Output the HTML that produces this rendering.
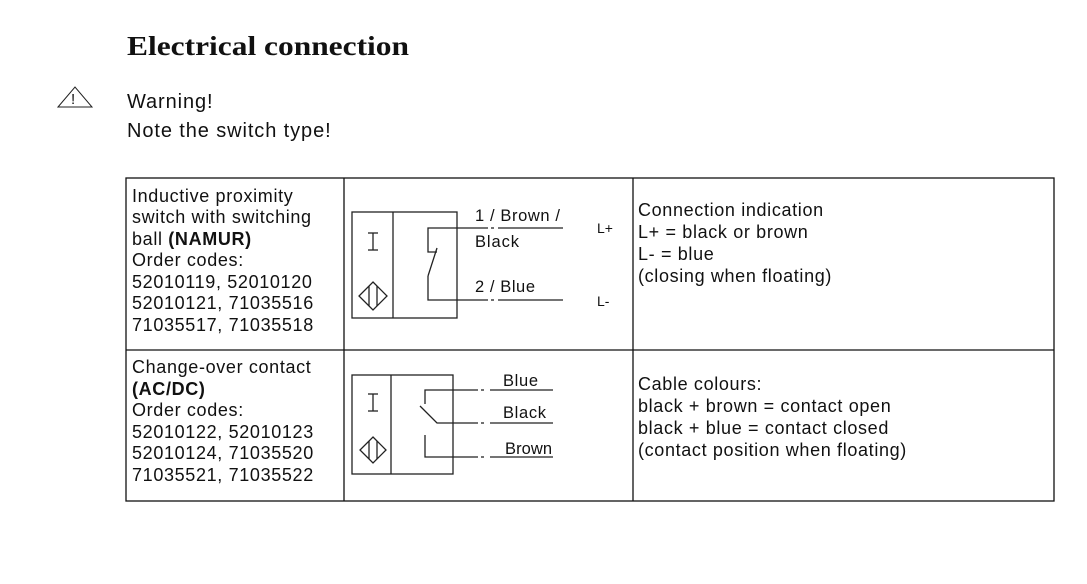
<!DOCTYPE html>
<html><head><meta charset="utf-8"><style>
html,body{margin:0;padding:0;background:#fff;}
svg{display:block}
text{font-family:"Liberation Sans",sans-serif;fill:#111;}
</style></head><body>
<svg width="1087" height="584" viewBox="0 0 1087 584" xmlns="http://www.w3.org/2000/svg">
<text x="127" y="55" textLength="282" lengthAdjust="spacingAndGlyphs" style="font-family:'Liberation Serif',serif;font-weight:bold;font-size:27px">Electrical connection</text>
<polygon points="58,107 75,87 92,107" fill="none" stroke="#222" stroke-width="1"/>
<text x="71" y="104" font-size="15">!</text>
<text x="127" y="108" font-size="20" letter-spacing="0.9">Warning!</text>
<text x="127" y="137" font-size="20" letter-spacing="0.9">Note the switch type!</text>

<g stroke="#111" stroke-width="1.3" fill="none">
<rect x="126" y="178" width="928" height="323"/>
<line x1="126" y1="350" x2="1054" y2="350"/>
<line x1="344" y1="178" x2="344" y2="501"/>
<line x1="633" y1="178" x2="633" y2="501"/>
</g>

<g font-size="18" letter-spacing="0.65">
<text x="132" y="202">Inductive proximity</text>
<text x="132" y="223">switch with switching</text>
<text x="132" y="245">ball <tspan font-weight="bold">(NAMUR)</tspan></text>
<text x="132" y="266">Order codes:</text>
<text x="132" y="288">52010119, 52010120</text>
<text x="132" y="309">52010121, 71035516</text>
<text x="132" y="331">71035517, 71035518</text>
<text x="132" y="373">Change-over contact</text>
<text x="132" y="395" font-weight="bold">(AC/DC)</text>
<text x="132" y="416">Order codes:</text>
<text x="132" y="438">52010122, 52010123</text>
<text x="132" y="459">52010124, 71035520</text>
<text x="132" y="481">71035521, 71035522</text>
<text x="638" y="216">Connection indication</text>
<text x="638" y="238">L+ = black or brown</text>
<text x="638" y="260">L- = blue</text>
<text x="638" y="282">(closing when floating)</text>
<text x="638" y="390">Cable colours:</text>
<text x="638" y="412">black + brown = contact open</text>
<text x="638" y="434">black + blue = contact closed</text>
<text x="638" y="456">(contact position when floating)</text>
</g>

<g stroke="#222" stroke-width="1.3" fill="none">
<rect x="352" y="212" width="105" height="106"/>
<line x1="393" y1="212" x2="393" y2="318"/>
<line x1="373" y1="233" x2="373" y2="250"/><line x1="368" y1="233" x2="378" y2="233"/><line x1="368" y1="250" x2="378" y2="250"/>
<polygon points="373,282 387,296 373,310 359,296"/><line x1="369" y1="286" x2="369" y2="306"/><line x1="377" y1="286" x2="377" y2="306"/>
<polyline points="488,228 428,228 428,252 437,252"/>
<line x1="437" y1="248" x2="428" y2="276"/>
<polyline points="428,276 428,300 488,300"/>
<line x1="491" y1="228" x2="494" y2="228"/><line x1="498" y1="228" x2="563" y2="228"/>
<line x1="491" y1="300" x2="494" y2="300"/><line x1="498" y1="300" x2="563" y2="300"/>
<rect x="352" y="375" width="101" height="99"/>
<line x1="391" y1="375" x2="391" y2="474"/>
<line x1="373" y1="394" x2="373" y2="411"/><line x1="368" y1="394" x2="378" y2="394"/><line x1="368" y1="411" x2="378" y2="411"/>
<polygon points="373,437 386,450 373,463 360,450"/><line x1="369" y1="441" x2="369" y2="459"/><line x1="377" y1="441" x2="377" y2="459"/>
<polyline points="478,390 425,390 425,404"/>
<polyline points="420,406 437,423 478,423"/>
<polyline points="425,435 425,457 478,457"/>
<line x1="481" y1="390" x2="484" y2="390"/><line x1="490" y1="390" x2="553" y2="390"/>
<line x1="481" y1="423" x2="484" y2="423"/><line x1="490" y1="423" x2="553" y2="423"/>
<line x1="481" y1="457" x2="484" y2="457"/><line x1="490" y1="457" x2="553" y2="457"/>
</g>
<g font-size="16.5" fill="#222">
<text x="475" y="221" textLength="85">1 / Brown /</text>
<text x="475" y="247" textLength="44">Black</text>
<text x="475" y="292" textLength="60">2 / Blue</text>
<text x="597" y="233" font-size="14">L+</text>
<text x="597" y="306" font-size="14">L-</text>
<text x="503" y="386" textLength="35">Blue</text>
<text x="503" y="418" textLength="43">Black</text>
<text x="505" y="454" textLength="47">Brown</text>
</g>
</svg>
</body></html>
